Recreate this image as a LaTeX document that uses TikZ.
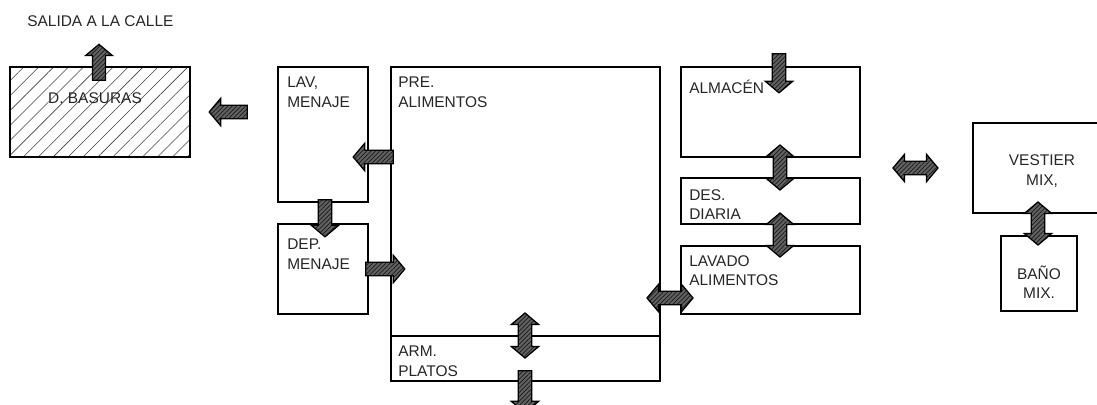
\documentclass[tikz,border=0pt]{standalone}
\usepackage{fontspec}
\setmainfont{Liberation Sans}
\usetikzlibrary{shapes.arrows, fit, patterns.meta}

\begin{document}
\begin{tikzpicture}[
  x=0.025cm, y=-0.025cm,
  every node/.style={font=\fontsize{11}{13.8}\selectfont, text=black!85},
  room/.style={rectangle, draw=black, line width=0.8pt, inner sep=0pt},
  tag/.style={anchor=north west, align=left, inner sep=0pt},
  flow/.style={single arrow, draw=black, line width=0.9pt, inner xsep=0pt, inner ysep=4.3pt,
    single arrow head extend=5pt, single arrow tip angle=100,
    preaction={fill=black!62}, pattern={Lines[angle=45, distance=2.2pt, line width=0.5pt]}, pattern color=black!90},
  dflow/.style={double arrow, draw=black, line width=0.9pt, inner xsep=0pt, inner ysep=4.3pt,
    double arrow head extend=5pt, double arrow tip angle=100,
    preaction={fill=black!62}, pattern={Lines[angle=45, distance=2.2pt, line width=0.5pt]}, pattern color=black!90},
]
\useasboundingbox (0,0) rectangle (1097,404);

% rooms
\node[room, fit={(10,67) (190,157)}, pattern={Lines[angle=45, distance=7.5pt, line width=0.4pt]}, pattern color=black!75] (bas) {};
\node[room, fit={(278,67) (368,202)}] (lav) {};
\node[room, fit={(278,224) (368,314)}] (dep) {};
\node[room, fit={(391,67) (660,336)}] (pre) {};
\node[room, fit={(391,336) (660,381)}] (arm) {};
\node[room, fit={(681,67) (860,157)}] (alm) {};
\node[room, fit={(681,178) (860,224)}] (des) {};
\node[room, fit={(681,246) (860,314)}] (lavado) {};
\node[room, fit={(973,123) (1110,213)}] (vest) {};
\node[room, fit={(1001,236) (1077,311)}] (bano) {};

% texts
\node[anchor=west, inner sep=0pt] (salida) at (27,21) {SALIDA A LA CALLE};
\node[inner sep=0pt] (basT) at (95,98) {D. BASURAS};
\node[tag] (lavT) at (287,77) {LAV,\\MENAJE};
\node[tag] (depT) at (287,239) {DEP.\\MENAJE};
\node[tag] (preT) at (398,77) {PRE.\\ALIMENTOS};
\node[tag] (armT) at (398,346) {ARM.\\PLATOS};
\node[tag] (almT) at (689,80) {ALMACÉN};
\node[tag] (desT) at (689,189) {DES.\\DIARIA};
\node[tag] (lavadoT) at (689,255) {LAVADO\\ALIMENTOS};
\node[align=center, inner sep=0pt] (vestT) at (1042,171) {VESTIER\\MIX,};
\node[align=center, inner sep=0pt] (banoT) at (1039,282) {BAÑO\\MIX.};

% flows
\node[flow, rotate=90, minimum height=36*0.025cm] (f1) at (99,65) {};
\node[flow, rotate=180, minimum height=38*0.025cm] (f2) at (231,112) {};
\node[flow, rotate=180, minimum height=40*0.025cm] (f3) at (376,157) {};
\node[flow, rotate=-90, minimum height=37*0.025cm] (f4) at (325,215.5) {};
\node[flow, minimum height=39*0.025cm] (f5) at (382.5,269) {};
\node[dflow, rotate=90, minimum height=45*0.025cm] (f6) at (525,335.5) {};
\node[flow, rotate=-90, minimum height=42*0.025cm] (f7) at (525,389) {};
\node[dflow, minimum height=46*0.025cm] (f8) at (670,298) {};
\node[flow, rotate=-90, minimum height=39*0.025cm] (f9) at (779,70.5) {};
\node[dflow, rotate=90, minimum height=45*0.025cm] (f10) at (780,167.5) {};
\node[dflow, rotate=90, minimum height=44*0.025cm] (f11) at (780,235) {};
\node[dflow, minimum height=45*0.025cm] (f12) at (915.5,168) {};
\node[dflow, rotate=90, minimum height=43*0.025cm] (f13) at (1038,223.5) {};

\end{tikzpicture}
\end{document}
